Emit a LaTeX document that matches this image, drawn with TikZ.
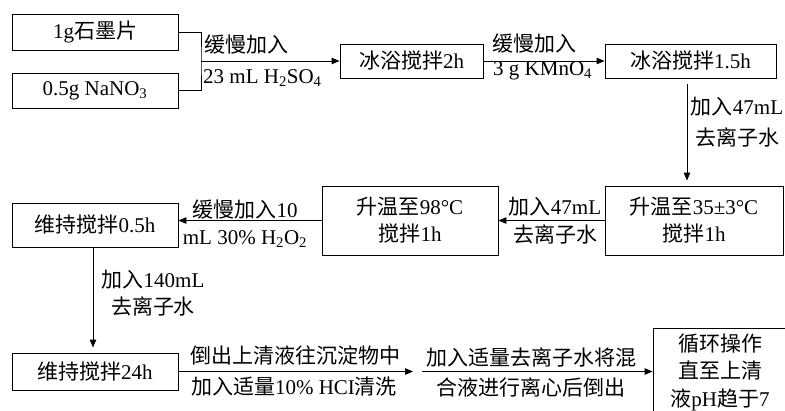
\documentclass[tikz,border=0pt]{standalone}
\usepackage{fontspec}
\setmainfont{Liberation Serif}
\newfontfamily\cjk{Noto Sans CJK SC}
\newcommand{\zh}[1]{{\cjk #1}}
\usetikzlibrary{arrows.meta}
\begin{document}
\begin{tikzpicture}[x=1pt,y=-1pt,
  box/.style={draw, line width=0.9pt, inner sep=0pt, align=center, font=\fontsize{21}{27}\selectfont},
  lbl/.style={inner sep=0pt, align=center, font=\fontsize{21}{28}\selectfont},
  conn/.style={line width=0.9pt},
  arr/.style={line width=0.9pt, -{Triangle[length=8pt,width=6.5pt]}}]
\clip (0,0) rectangle (785,410);
% row 1
\node[box, minimum width=166, minimum height=36] (b1) at (95,32) {1g\zh{石墨片}};
\node[box, minimum width=166, minimum height=35] (b2) at (95,90.5) {0.5g NaNO\textsubscript{3}};
\coordinate (j1) at (201,61);
\node[box, minimum width=143, minimum height=34] (b3) at (411.5,61) {\zh{冰浴搅拌}2h};
\node[box, minimum width=171, minimum height=34] (b4) at (690.5,61) {\zh{冰浴搅拌}1.5h};
\draw[conn] (b1.east) -| (j1) |- (b2.east);
\draw[arr] (j1) -- (b3.west);
\node[lbl, anchor=west] (t1) at (204,45) {\zh{缓慢加入}};
\node[lbl, anchor=west] (t2) at (203,78) {23 mL H\textsubscript{2}SO\textsubscript{4}};
\draw[arr] (b3.east) -- (b4.west);
\node[lbl, anchor=west] (t3) at (492,44) {\zh{缓慢加入}};
\node[lbl, anchor=west] (t4) at (493,71) {3 g KMnO\textsubscript{4}};
% row 2
\node[box, minimum width=178, minimum height=69] (b5) at (694,220.5) {\zh{升温至}35±3°C\\\zh{搅拌}1h};
\node[box, minimum width=176, minimum height=69] (b6) at (410,220.5) {\zh{升温至}98°C\\\zh{搅拌}1h};
\node[box, minimum width=166, minimum height=44] (b7) at (95,225) {\zh{维持搅拌}0.5h};
\coordinate (v1) at (687,0);
\draw[arr, shorten <=6pt, shorten >=5pt] (b4.south -| v1) -- (b5.north -| v1);
\node[lbl, font=\fontsize{21}{31}\selectfont] (t5) at (737,122) {\zh{加入}47mL\\\zh{去离子水}};
\draw[arr] (b5.west) -- (b6.east);
\node[lbl] (t6) at (555,221) {\zh{加入}47mL\\\zh{去离子水}};
\draw[arr] (b6.west) -- (b6.west -| b7.east);
\node[lbl, font=\fontsize{21}{27}\selectfont] (t7) at (245,223.5) {\zh{缓慢加入}10\\mL 30\% H\textsubscript{2}O\textsubscript{2}};
% row 3
\node[box, minimum width=166, minimum height=37] (b8) at (95,371.5) {\zh{维持搅拌}24h};
\coordinate (v2) at (93,0);
\draw[arr, shorten >=5pt] (b7.south -| v2) -- (b8.north -| v2);
\node[lbl, font=\fontsize{21}{27}\selectfont] (t8) at (153,293) {\zh{加入}140mL\\\zh{去离子水}};
\node[box, minimum width=134, minimum height=88, font=\fontsize{21}{27.5}\selectfont] (b9) at (720,372) {\zh{循环操作}\\\zh{直至上清}\\\zh{液}pH\zh{趋于}7};
\coordinate (m1) at (413,371.5);
\coordinate (m2) at (422,371.5);
\draw[arr] (b8.east) -- (m1);
\draw[arr] (m2) -- (b9.west |- m2);
\node[lbl] (t9) at (295,355) {\zh{倒出上清液往沉淀物中}};
\node[lbl] (t10) at (294,387) {\zh{加入适量}10\% HCI\zh{清洗}};
\node[lbl] (t11) at (531,357) {\zh{加入适量去离子水将混}};
\node[lbl] (t12) at (531,387) {\zh{合液进行离心后倒出}};
\end{tikzpicture}
\end{document}
